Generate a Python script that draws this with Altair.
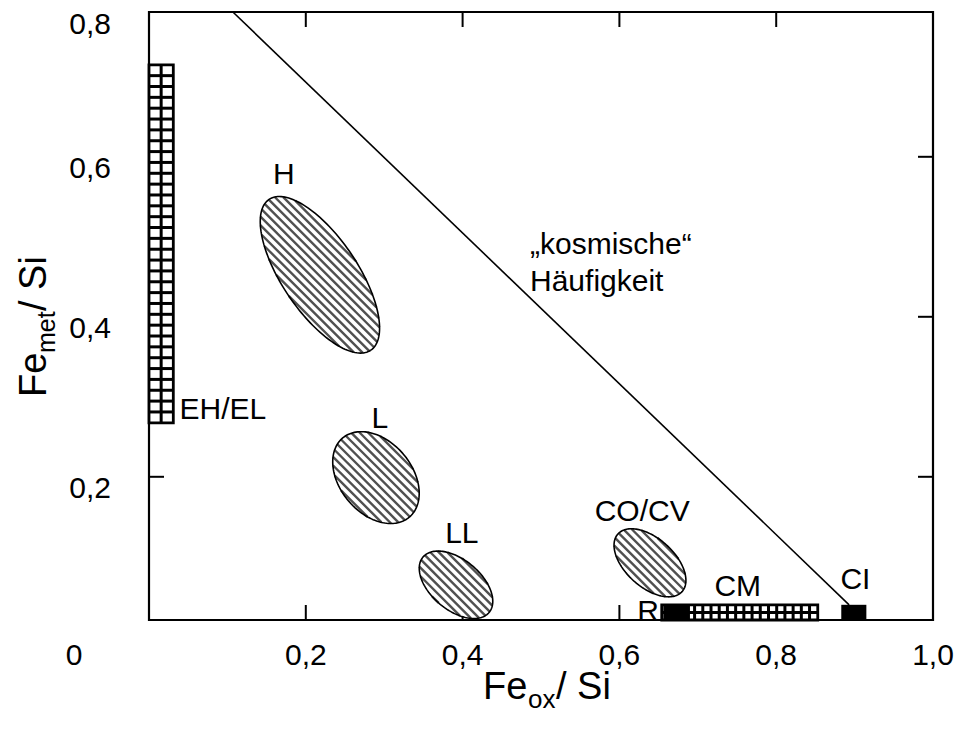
import altair as alt
import numpy as np
import pandas as pd

FONT = "Liberation Sans"

# plot area and scale domains
W, H = 784, 608
X_DOMAIN = [0.0, 1.0]
Y_DOMAIN = [0.021, 0.781]
SX = W / (X_DOMAIN[1] - X_DOMAIN[0])   # px per x unit
SY = H / (Y_DOMAIN[1] - Y_DOMAIN[0])   # px per y unit

# tick marks and tick labels
x_ticks = [0.2, 0.4, 0.6, 0.8]
x_tick_values = [0.2, 0.4, 0.6, 0.8, 1.0]
x_tick_labels = ["0,2", "0,4", "0,6", "0,8", "1,0"]
y_ticks = [0.2, 0.4, 0.6]
y_tick_values = [0.2, 0.4, 0.6]
y_tick_labels = ["0,2", "0,4", "0,6"]
y_top_value = [0.8]
y_top_label = ["0,8"]

# cosmic abundance line
cosmic_x = [0.107, 0.893]
cosmic_y = [0.781, 0.040]

# chondrite groups drawn as ellipses
ell_names = ["H", "L", "LL", "CO/CV"]
ell_cx = [0.218, 0.2895, 0.3916, 0.639]
ell_cy = [0.4525, 0.199, 0.065, 0.0925]
ell_a = [0.116, 0.066, 0.055, 0.055]    # semi-major axis (x units)
ell_b = [0.048, 0.046, 0.032, 0.031]    # semi-minor axis (x units)
ell_angle = [56, 50, 40, 42]            # tilt, degrees clockwise

# groups drawn as bars
grid_names = ["EH/EL", "CM"]
grid_x0 = [0.0, 0.654]
grid_x1 = [0.031, 0.853]
grid_y0 = [0.2675, 0.021]
grid_y1 = [0.715, 0.040]
grid_cols = [2, 19]
grid_rows = [33, 2]

solid_names = ["R", "CI"]
solid_x0 = [0.656, 0.883]
solid_x1 = [0.690, 0.915]
solid_y0 = [0.021, 0.021]
solid_y1 = [0.040, 0.040]

# annotations
lab_c_text = ["H", "L", "LL", "CO/CV", "CM", "R", "CI"]
lab_c_x = [0.172, 0.2946, 0.399, 0.629, 0.751, 0.6365, 0.901]
lab_c_y = [0.577, 0.2725, 0.129, 0.156, 0.062, 0.03125, 0.071]
lab_l_text = ["EH/EL", "„kosmische“", "Häufigkeit"]
lab_l_x = [0.0389, 0.486, 0.486]
lab_l_y = [0.284, 0.49, 0.444]

xs = alt.Scale(domain=X_DOMAIN, nice=False, zero=False)
ys = alt.Scale(domain=Y_DOMAIN, nice=False, zero=False)


def X(f="x"):
    return alt.X(f"{f}:Q", scale=xs, axis=None)


def Y(f="y"):
    return alt.Y(f"{f}:Q", scale=ys, axis=None)


def ellipse_geometry(cx, cy, a, b, ang, name):
    a, b = a * SX, b * SX
    th = np.radians(ang)
    c, s = np.cos(th), np.sin(th)
    # outline
    t = np.linspace(0, 2 * np.pi, 161)
    u, v = a * np.cos(t), b * np.sin(t)
    dx, dy = u * c - v * s, u * s + v * c
    outline = pd.DataFrame({"x": cx + dx / SX, "y": cy - dy / SY,
                            "o": np.arange(len(t)), "g": name})
    # white interior as a band between the two halves
    half = np.sqrt(a * a * c * c + b * b * s * s)
    Xp = np.linspace(-half, half, 181)
    A = s * s / a ** 2 + c * c / b ** 2
    B = 2 * Xp * c * s * (1 / a ** 2 - 1 / b ** 2)
    C = Xp ** 2 * (c * c / a ** 2 + s * s / b ** 2) - 1
    disc = np.sqrt(np.clip(B * B - 4 * A * C, 0, None))
    y1 = (-B - disc) / (2 * A)
    y2 = (-B + disc) / (2 * A)
    fill = pd.DataFrame({"x": cx + Xp / SX, "y": cy - y1 / SY,
                         "y2": cy - y2 / SY, "g": name})
    # diagonal hatching
    d = np.array([1.0, 1.0]) / np.sqrt(2)
    n = np.array([1.0, -1.0]) / np.sqrt(2)
    du, dv = d[0] * c + d[1] * s, -d[0] * s + d[1] * c
    segs = []
    for k in np.arange(-a, a + 0.1, 6.0):
        p0 = k * n
        u0, v0 = p0[0] * c + p0[1] * s, -p0[0] * s + p0[1] * c
        qa = du * du / a ** 2 + dv * dv / b ** 2
        qb = 2 * (u0 * du / a ** 2 + v0 * dv / b ** 2)
        qc = u0 * u0 / a ** 2 + v0 * v0 / b ** 2 - 1
        D = qb * qb - 4 * qa * qc
        if D <= 0:
            continue
        t1 = (-qb - np.sqrt(D)) / (2 * qa)
        t2 = (-qb + np.sqrt(D)) / (2 * qa)
        q1, q2 = p0 + t1 * d, p0 + t2 * d
        segs.append({"x": cx + q1[0] / SX, "y": cy - q1[1] / SY,
                     "x2": cx + q2[0] / SX, "y2": cy - q2[1] / SY})
    return outline, fill, pd.DataFrame(segs)


outlines, fills, hatches = [], [], []
for i, nm in enumerate(ell_names):
    o, f, h = ellipse_geometry(ell_cx[i], ell_cy[i], ell_a[i], ell_b[i], ell_angle[i], nm)
    outlines.append(o)
    fills.append(f)
    hatches.append(h)
outline_df = pd.concat(outlines, ignore_index=True)
fill_df = pd.concat(fills, ignore_index=True)
hatch_df = pd.concat(hatches, ignore_index=True)

# checkered bars: outer box plus inner grid lines
box_df = pd.DataFrame({"x": grid_x0, "x2": grid_x1, "y": grid_y0, "y2": grid_y1})
grid_lines = []
for i in range(len(grid_names)):
    for gx in np.linspace(grid_x0[i], grid_x1[i], grid_cols[i] + 1)[1:-1]:
        grid_lines.append({"x": gx, "x2": gx, "y": grid_y0[i], "y2": grid_y1[i]})
    for gy in np.linspace(grid_y0[i], grid_y1[i], grid_rows[i] + 1)[1:-1]:
        grid_lines.append({"x": grid_x0[i], "x2": grid_x1[i], "y": gy, "y2": gy})
grid_df = pd.DataFrame(grid_lines)
solid_df = pd.DataFrame({"x": solid_x0, "x2": solid_x1, "y": solid_y0, "y2": solid_y1})

# ---- layers ----
xt = pd.DataFrame({"v": x_ticks})
yt = pd.DataFrame({"v": y_ticks})
tick_style = dict(color="black", strokeWidth=2)
ticks = [
    alt.Chart(xt).mark_rule(**tick_style).encode(x=X("v"), y=alt.value(0), y2=alt.value(15)),
    alt.Chart(xt).mark_rule(**tick_style).encode(x=X("v"), y=alt.value(H), y2=alt.value(H - 15)),
    alt.Chart(yt).mark_rule(**tick_style).encode(y=Y("v"), x=alt.value(0), x2=alt.value(15)),
    alt.Chart(yt).mark_rule(**tick_style).encode(y=Y("v"), x=alt.value(W), x2=alt.value(W - 15)),
]

tick_font = dict(font=FONT, fontSize=30, color="black")
xlab = alt.Chart(pd.DataFrame({"v": x_tick_values, "t": x_tick_labels})).mark_text(
    baseline="middle", align="center", **tick_font
).encode(x=X("v"), y=alt.value(644), text="t:N")
zero_lab = alt.Chart(pd.DataFrame({"t": ["0"]})).mark_text(
    baseline="middle", align="center", **tick_font
).encode(x=alt.value(-75), y=alt.value(644), text="t:N")
ylab = alt.Chart(pd.DataFrame({"v": y_tick_values, "t": y_tick_labels})).mark_text(
    baseline="middle", align="right", dy=12, **tick_font
).encode(y=Y("v"), x=alt.value(-38), text="t:N")
ylab_top = alt.Chart(pd.DataFrame({"v": y_top_value, "t": y_top_label})).mark_text(
    baseline="middle", align="right", dy=28, clip=False, **tick_font
).encode(y=Y("v"), x=alt.value(-38), text="t:N")

cosmic = alt.Chart(pd.DataFrame({"x": cosmic_x, "y": cosmic_y})).mark_line(
    color="black", strokeWidth=1.6
).encode(x=X(), y=Y())

ell_fill = alt.Chart(fill_df).mark_area(color="white", opacity=1).encode(
    x=X(), y=Y(), y2="y2:Q", detail="g:N")
ell_hatch = alt.Chart(hatch_df).mark_rule(color="#505050", strokeWidth=2.4).encode(
    x=X(), y=Y(), x2="x2:Q", y2="y2:Q")
ell_line = alt.Chart(outline_df).mark_line(color="black", strokeWidth=1.6).encode(
    x=X(), y=Y(), order="o:Q", detail="g:N")

box = alt.Chart(box_df).mark_rect(fill="white", stroke="black", strokeWidth=2.8).encode(
    x=X(), x2="x2:Q", y=Y(), y2="y2:Q")
grid = alt.Chart(grid_df).mark_rule(color="black", strokeWidth=3).encode(
    x=X(), x2="x2:Q", y=Y(), y2="y2:Q")
solid = alt.Chart(solid_df).mark_rect(color="black").encode(
    x=X(), x2="x2:Q", y=Y(), y2="y2:Q")

lab_font = dict(font=FONT, fontSize=30, color="black")
lab_c = alt.Chart(pd.DataFrame({"x": lab_c_x, "y": lab_c_y, "t": lab_c_text})).mark_text(
    align="center", baseline="middle", **lab_font).encode(x=X(), y=Y(), text="t:N")
lab_l = alt.Chart(pd.DataFrame({"x": lab_l_x, "y": lab_l_y, "t": lab_l_text})).mark_text(
    align="left", baseline="middle", **lab_font).encode(x=X(), y=Y(), text="t:N")

# axis titles with subscripts
title_font = dict(font=FONT, color="black")
SLASH_SI = "\u00a0/ Si"
xt1 = alt.Chart(pd.DataFrame({"t": ["Fe"]})).mark_text(
    align="left", baseline="alphabetic", fontSize=38, **title_font
).encode(x=alt.value(334), y=alt.value(687), text="t:N")
xt2 = alt.Chart(pd.DataFrame({"t": ["ox"]})).mark_text(
    align="left", baseline="alphabetic", fontSize=26, **title_font
).encode(x=alt.value(379), y=alt.value(696), text="t:N")
xt3 = alt.Chart(pd.DataFrame({"t": [SLASH_SI]})).mark_text(
    align="left", baseline="alphabetic", fontSize=38, **title_font
).encode(x=alt.value(407), y=alt.value(687), text="t:N")

yt1 = alt.Chart(pd.DataFrame({"t": ["Fe"]})).mark_text(
    align="left", baseline="alphabetic", angle=270, fontSize=38, **title_font
).encode(x=alt.value(-103), y=alt.value(385), text="t:N")
yt2 = alt.Chart(pd.DataFrame({"t": ["met"]})).mark_text(
    align="left", baseline="alphabetic", angle=270, fontSize=25, **title_font
).encode(x=alt.value(-94), y=alt.value(341), text="t:N")
yt3 = alt.Chart(pd.DataFrame({"t": [SLASH_SI]})).mark_text(
    align="left", baseline="alphabetic", angle=270, fontSize=38, **title_font
).encode(x=alt.value(-103), y=alt.value(299), text="t:N")

chart = alt.layer(
    *ticks, cosmic, ell_fill, ell_hatch, ell_line, box, grid, solid,
    lab_c, lab_l, xlab, zero_lab, ylab, ylab_top,
    xt1, xt2, xt3, yt1, yt2, yt3
).properties(
    width=W, height=H,
    autosize=alt.AutoSizeParams(type="none"),
    padding={"left": 149, "top": 12, "right": 25, "bottom": 110},
    background="white",
).configure_view(stroke="black", strokeWidth=2.2)

chart.save("out.html", embed_options={"renderer": "svg", "actions": False})
